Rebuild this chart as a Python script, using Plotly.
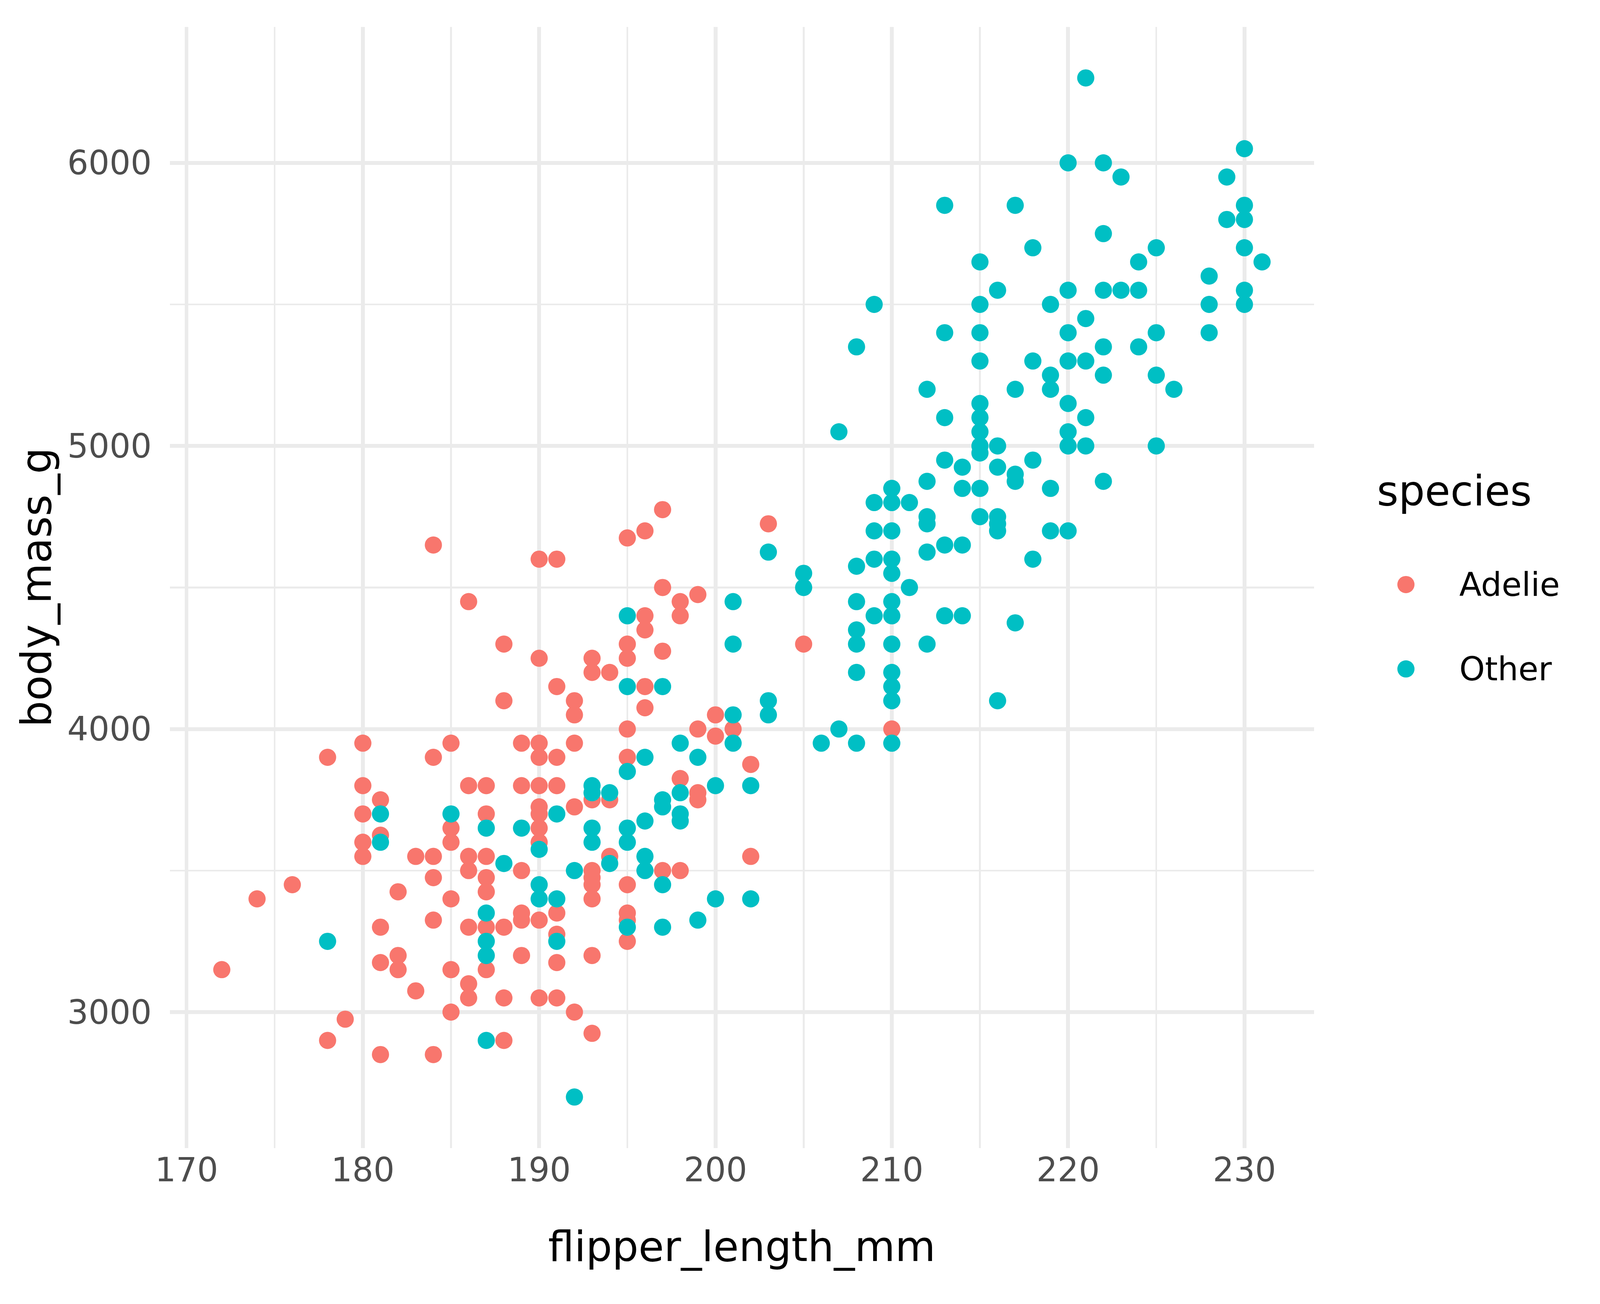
import plotly.graph_objects as go

# flipper length (mm) and body mass (g)
adelie_flipper = [172, 174, 176, 178, 178, 179, 180, 180, 180, 180, 180,
                  181, 181, 181, 181, 181, 182, 182, 182, 183, 183,
                  184, 184, 184, 184, 184, 184, 185, 185, 185, 185, 185, 185,
                  186, 186, 186, 186, 186, 186, 186, 187, 187, 187, 187, 187, 187, 187,
                  188, 188, 188, 188, 188, 189, 189, 189, 189, 189, 189,
                  190, 190, 190, 190, 190, 190, 190, 190, 190, 190, 190,
                  191, 191, 191, 191, 191, 191, 191, 191, 192, 192, 192, 192, 192,
                  193, 193, 193, 193, 193, 193, 193, 193, 193, 194, 194, 194,
                  195, 195, 195, 195, 195, 195, 195, 195, 195,
                  196, 196, 196, 196, 196, 197, 197, 197, 197, 198, 198, 198, 198,
                  199, 199, 199, 199, 200, 200, 201, 202, 202, 203, 205, 210]
adelie_mass = [3150, 3400, 3450, 3900, 2900, 2975, 3950, 3800, 3700, 3600, 3550,
               3750, 3625, 3300, 3175, 2850, 3425, 3200, 3150, 3550, 3075,
               4650, 3900, 3550, 3475, 3325, 2850, 3950, 3650, 3600, 3400, 3150, 3000,
               4450, 3800, 3550, 3500, 3300, 3100, 3050, 3800, 3700, 3550, 3475, 3425, 3300, 3150,
               4300, 4100, 3300, 3050, 2900, 3950, 3800, 3500, 3350, 3325, 3200,
               4600, 4250, 3950, 3900, 3800, 3725, 3700, 3650, 3600, 3325, 3050,
               4600, 4150, 3900, 3800, 3350, 3275, 3175, 3050, 4100, 4050, 3950, 3725, 3000,
               4250, 4200, 3750, 3500, 3475, 3450, 3400, 3200, 2925, 4200, 3750, 3550,
               4675, 4300, 4250, 4000, 3900, 3450, 3350, 3325, 3250,
               4700, 4400, 4350, 4150, 4075, 4775, 4500, 4275, 3500, 4450, 4400, 3825, 3500,
               4475, 4000, 3775, 3750, 4050, 3975, 4000, 3875, 3550, 4725, 4300, 4000]

other_flipper = [178, 181, 181, 185, 187, 187, 187, 187, 187, 188, 189,
                 190, 190, 190, 191, 191, 191, 192, 192, 193, 193, 193, 193, 194, 194,
                 195, 195, 195, 195, 195, 195, 196, 196, 196, 196,
                 197, 197, 197, 197, 197, 198, 198, 198, 198, 199, 199, 200, 200,
                 201, 201, 201, 201, 202, 202, 203, 203, 203, 205, 205, 206,
                 207, 207, 208, 208, 208, 208, 208, 208, 208, 209, 209, 209, 209, 209,
                 210, 210, 210, 210, 210, 210, 210, 210, 210, 210, 210, 210, 211, 211,
                 212, 212, 212, 212, 212, 212, 213, 213, 213, 213, 213, 213,
                 214, 214, 214, 214, 215, 215, 215, 215, 215, 215, 215, 215, 215, 215, 215,
                 216, 216, 216, 216, 216, 216, 216, 217, 217, 217, 217, 217,
                 218, 218, 218, 218, 219, 219, 219, 219, 219,
                 220, 220, 220, 220, 220, 220, 220, 220, 221, 221, 221, 221, 221,
                 222, 222, 222, 222, 222, 222, 223, 223, 224, 224, 224,
                 225, 225, 225, 225, 226, 228, 228, 228, 229, 229,
                 230, 230, 230, 230, 230, 230, 231]
other_mass = [3250, 3700, 3600, 3700, 3650, 3350, 3250, 3200, 2900, 3525, 3650,
              3575, 3450, 3400, 3700, 3400, 3250, 3500, 2700, 3800, 3775, 3650, 3600, 3775, 3525,
              4400, 4150, 3850, 3650, 3600, 3300, 3900, 3675, 3550, 3500,
              4150, 3750, 3725, 3450, 3300, 3950, 3775, 3700, 3675, 3900, 3325, 3800, 3400,
              4450, 4300, 4050, 3950, 3800, 3400, 4625, 4100, 4050, 4550, 4500, 3950,
              5050, 4000, 5350, 4575, 4450, 4350, 4300, 4200, 3950, 5500, 4800, 4700, 4600, 4400,
              4850, 4800, 4700, 4600, 4550, 4450, 4400, 4300, 4200, 4150, 4100, 3950, 4800, 4500,
              5200, 4875, 4750, 4725, 4625, 4300, 5850, 5400, 5100, 4950, 4650, 4400,
              4925, 4850, 4650, 4400, 5650, 5500, 5400, 5300, 5150, 5100, 5050, 5000, 4975, 4850, 4750,
              5550, 5000, 4925, 4750, 4725, 4700, 4100, 5850, 5200, 4900, 4875, 4375,
              5700, 5300, 4950, 4600, 5500, 5250, 5200, 4850, 4700,
              6000, 5550, 5400, 5300, 5150, 5050, 5000, 4700, 6300, 5450, 5300, 5100, 5000,
              6000, 5750, 5550, 5350, 5250, 4875, 5950, 5550, 5650, 5550, 5350,
              5700, 5400, 5250, 5000, 5200, 5600, 5500, 5400, 5950, 5800,
              6050, 5850, 5800, 5700, 5550, 5500, 5650]

species = ["Adelie", "Other"]
colors = ["#F8766D", "#00BFC4"]

x_major = [170, 180, 190, 200, 210, 220, 230]
x_minor = [175, 185, 195, 205, 215, 225]
y_major = [3000, 4000, 5000, 6000]
y_minor = [3500, 4500, 5500]

W, H = 5400, 3337
L, R, T, B = 573, 4435, 69, 2938   # panel edges in px
FONT = "DejaVu Sans"
GRID = "#EBEBEB"
X_STANDOFF = 28


def px(x, y):
    # page pixel -> paper coords
    return (x - L) / (R - L), (B - y) / (B - T)


fig = go.Figure()

for name, xs, ys, col in zip(species, [adelie_flipper, other_flipper],
                             [adelie_mass, other_mass], colors):
    fig.add_trace(go.Scatter(x=xs, y=ys, mode="markers", name=name,
                             marker=dict(color=col, size=58, line=dict(width=0)),
                             showlegend=False))

axis_common = dict(showline=False, zeroline=False, ticks="", showgrid=True,
                   gridcolor=GRID, gridwidth=12.5,
                   tickfont=dict(family=FONT, size=112, color="#4D4D4D"))

fig.update_xaxes(range=[169.05, 233.95], tickmode="array", tickvals=x_major,
                 minor=dict(tickmode="array", tickvals=x_minor, showgrid=True,
                            gridcolor=GRID, gridwidth=6.3, ticks=""),
                 ticklabelstandoff=X_STANDOFF, **axis_common)
fig.update_yaxes(range=[2520, 6480], tickmode="array", tickvals=y_major,
                 minor=dict(tickmode="array", tickvals=y_minor, showgrid=True,
                            gridcolor=GRID, gridwidth=6.3, ticks=""),
                 ticklabelstandoff=60, **axis_common)

# axis titles
ax, ay = px((L + R) / 2, 3190)
fig.add_annotation(text="flipper_length_mm", x=ax, y=ay, xref="paper", yref="paper",
                   xanchor="center", yanchor="middle", showarrow=False,
                   font=dict(family=FONT, size=140, color="black"))
ax, ay = px(122, (T + B) / 2)
fig.add_annotation(text="body_mass_g", x=ax, y=ay, xref="paper", yref="paper",
                   xanchor="center", yanchor="middle", showarrow=False, textangle=-90,
                   font=dict(family=FONT, size=140, color="black"))

# legend drawn by hand so the keys can match the point size
lx, ly = px(4645, 1256)
fig.add_annotation(text="species", x=lx, y=ly, xref="paper", yref="paper",
                   xanchor="left", yanchor="middle", showarrow=False,
                   font=dict(family=FONT, size=140, color="black"))
for i, (name, col) in enumerate(zip(species, colors)):
    ky = 1496 + i * 216
    kx, kyp = px(4745, ky)
    fig.add_shape(type="circle", xref="paper", yref="paper",
                  xsizemode="pixel", ysizemode="pixel", xanchor=kx, yanchor=kyp,
                  x0=-29, x1=29, y0=-29, y1=29, fillcolor=col, line=dict(width=0))
    tx, _ = px(4923, ky)
    fig.add_annotation(text=name, x=tx, y=kyp, xref="paper", yref="paper",
                       xanchor="left", yanchor="middle", showarrow=False,
                       font=dict(family=FONT, size=110, color="black"))

fig.update_layout(width=W, height=H, autosize=False,
                  margin=dict(l=L, r=W - R, t=T, b=H - B, pad=0),
                  plot_bgcolor="white", paper_bgcolor="white",
                  font=dict(family=FONT))

# the browser viewport may not be exactly W x H: scale to its width and
# stretch the layout vertically so the figure fills it
fit_js = """
var gd = document.getElementById('{plot_id}');
var W = %d, H = %d, T = %d, B = %d, XS = %d;
var sx = window.innerWidth / W, sy = window.innerHeight / H;
var k = sy / sx;
document.documentElement.style.margin = '0';
document.body.style.margin = '0';
document.body.style.overflow = 'hidden';
gd.style.zoom = sx;
if (Math.abs(k - 1) > 0.002) {
  Plotly.relayout(gd, {
    'height': Math.floor(H * k),
    'margin.t': T * k,
    'margin.b': (H - B) * k,
    'xaxis.ticklabelstandoff': Math.max(0, (XS + 34) * k - 34)
  });
}
""" % (W, H, T, B, X_STANDOFF)

fig.write_html("out.html", config={"displayModeBar": False}, post_script=fit_js)
